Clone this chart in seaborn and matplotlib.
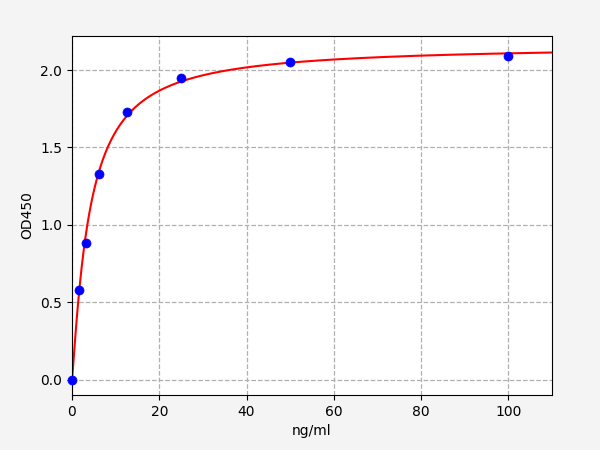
import numpy as np
import pandas as pd
import matplotlib
matplotlib.use("Agg")
import matplotlib.pyplot as plt
import seaborn as sns

# standard curve points
conc = [0, 1.5625, 3.125, 6.25, 12.5, 25, 50, 100]
od450 = [0.0, 0.58, 0.88, 1.33, 1.73, 1.95, 2.05, 2.09]

# 4PL fit parameters (bottom, top, ec50, hill)
fit_bottom = 0.0
fit_top = 2.16
fit_ec50 = 4.0
fit_hill = 1.15

x_fit = np.linspace(0, 110, 500)
ratio = np.divide(fit_ec50, x_fit, out=np.full_like(x_fit, np.inf), where=x_fit > 0)
y_fit = fit_bottom + (fit_top - fit_bottom) / (1 + ratio ** fit_hill)

pts = pd.DataFrame({'conc': conc, 'od': od450})
curve = pd.DataFrame({'conc': x_fit, 'od': y_fit})

sns.set_style("ticks")
plt.rcParams['text.color'] = 'black'
plt.rcParams['axes.labelcolor'] = 'black'
plt.rcParams['xtick.color'] = 'black'
plt.rcParams['ytick.color'] = 'black'

fig = plt.figure(figsize=(6, 4.5), dpi=100, facecolor='#f4f4f4')
ax = fig.add_axes([0.12, 0.122, 0.80, 0.798])

sns.lineplot(data=curve, x='conc', y='od', color='red', linewidth=1.5, ax=ax, zorder=2)
sns.scatterplot(data=pts, x='conc', y='od', color='blue', s=42, edgecolor='blue', ax=ax, zorder=3, clip_on=False)

ax.set_xlim(0, 110)
ax.set_ylim(-0.1, 2.22)
ax.set_yticks([0.0, 0.5, 1.0, 1.5, 2.0])
ax.set_xticks([0, 20, 40, 60, 80, 100])
ax.grid(True, linestyle='--', color='#b0b0b0', linewidth=0.9)
ax.set_axisbelow(True)
ax.set_xlabel('ng/ml', fontsize=10)
ax.set_ylabel('OD450', fontsize=10)
ax.tick_params(labelsize=10, direction='out', length=3.5, width=0.8, colors='black')
for s in ax.spines.values():
    s.set_visible(True)
    s.set_linewidth(0.8)
    s.set_color('black')

fig.savefig('out.png', dpi=100, facecolor=fig.get_facecolor())
